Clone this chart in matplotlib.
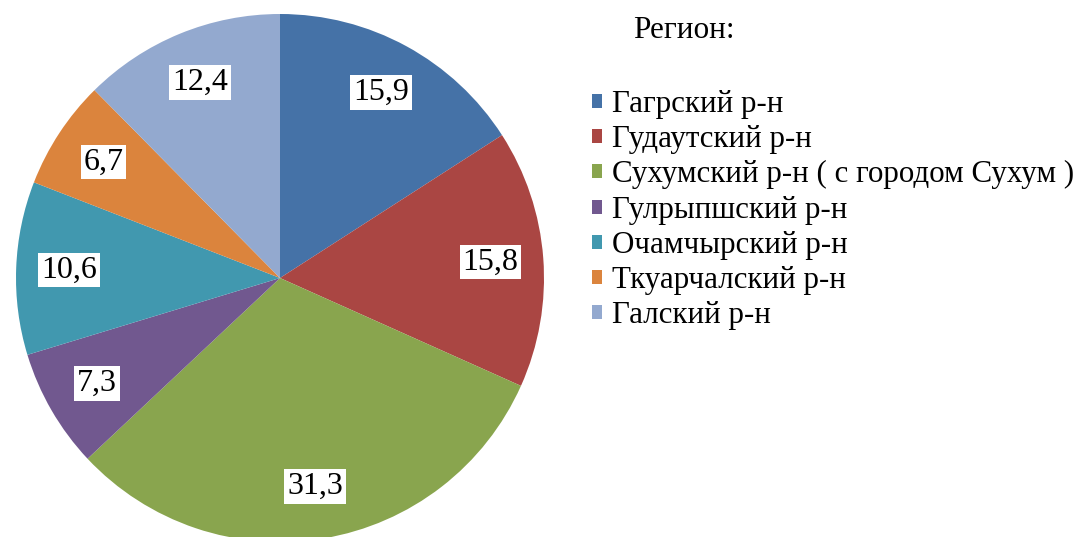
import matplotlib
matplotlib.use("Agg")
import matplotlib.pyplot as plt
from matplotlib.patches import Patch

regions = ["Гагрский р-н", "Гудаутский р-н", "Сухумский р-н ( с городом Сухум )",
           "Гулрыпшский р-н", "Очамчырский р-н", "Ткуарчалский р-н", "Галский р-н"]
values = [15.9, 15.8, 31.3, 7.3, 10.6, 6.7, 12.4]
colors = ["#4572A7", "#AA4643", "#89A54E", "#71588F", "#4198AF", "#DB843D", "#93A9CF"]
legend_title = "Регион:"

FAM = ['Liberation Serif', 'DejaVu Serif']
plt.rcParams['font.family'] = FAM

W, H = 1087, 537
fig = plt.figure(figsize=(W / 100, H / 100), dpi=100)
cx, cy, R = 280, 278, 264
ax = fig.add_axes([(cx - R) / W, (H - cy - R) / H, 2 * R / W, 2 * R / H])

total = sum(values)
wedges, _, autotexts = ax.pie(
    values, colors=colors, startangle=90, counterclock=False, radius=1,
    autopct=lambda p: f"{p * total / 100:.1f}".replace(".", ","),
    pctdistance=0.8, wedgeprops=dict(linewidth=0), frame=False,
    textprops=dict(family=FAM))
for w in wedges:
    w.set_clip_on(False)
for t in autotexts:
    t.set_fontsize(23)
    t.set_color("black")
    t.set_bbox(dict(facecolor="white", edgecolor="none", pad=2))
ax.set_xlim(-1, 1)
ax.set_ylim(-1, 1)
ax.set_aspect("equal")
ax.axis("off")

fig.text(633 / W, 1 - 31 / H, legend_title, fontsize=22.5, ha="left", va="center", family=FAM)

handles = [Patch(facecolor=c, edgecolor="none") for c in colors]
fig.legend(handles, regions, loc="upper left", bbox_to_anchor=(592 / W, 1 - 90 / H),
           frameon=False, prop=dict(family=FAM, size=22.3), handlelength=0.32, handleheight=0.32,
           handletextpad=0.33, labelspacing=0.2, borderaxespad=0, borderpad=0)

fig.savefig("out.png", dpi=100)
